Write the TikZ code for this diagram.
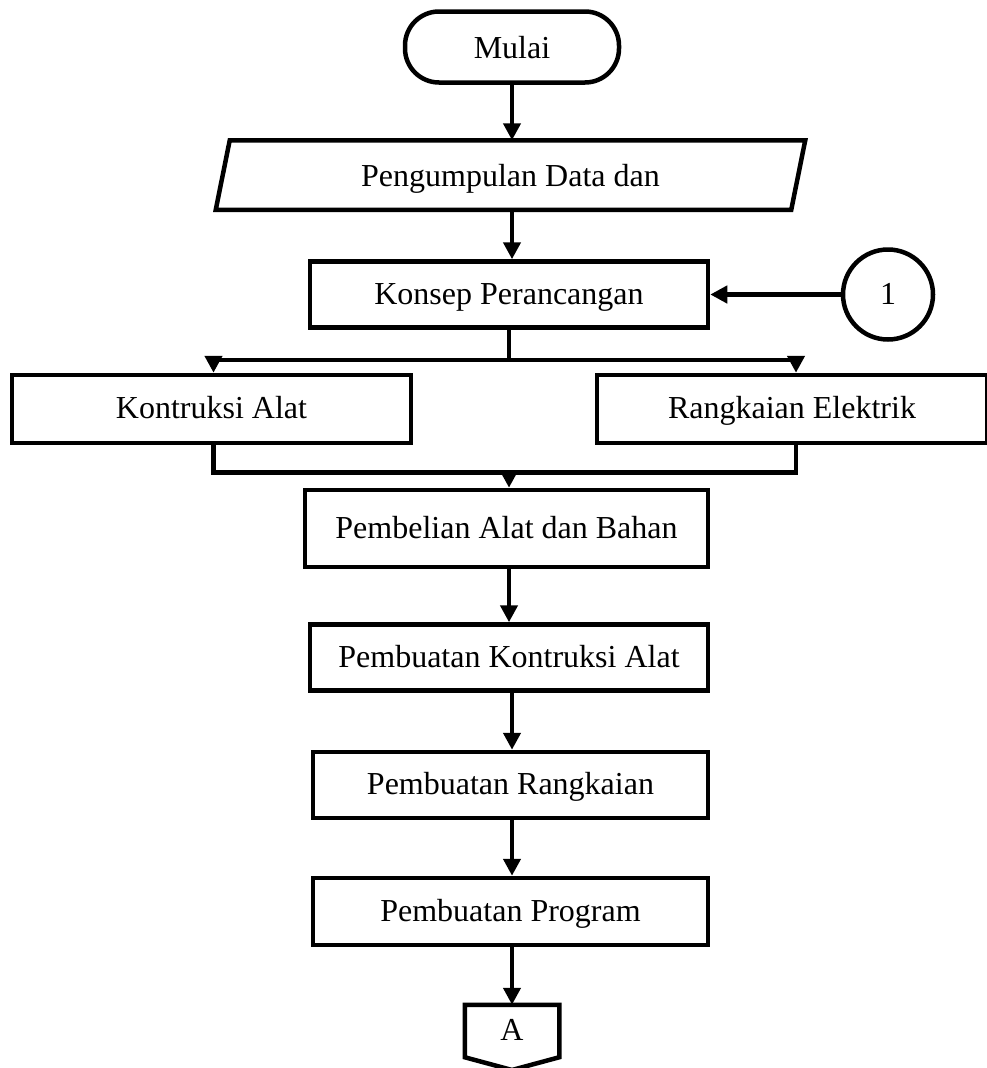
\documentclass[tikz,border=0pt]{standalone}
\usepackage{fontspec}
\setmainfont{Liberation Serif}
\usetikzlibrary{arrows.meta}

\begin{document}
\begin{tikzpicture}[x=1pt, y=-1pt, >={Triangle[length=17pt,width=17pt]},
    line width=4.5pt,
    every node/.style={font=\fontsize{32}{38}\selectfont, text height=23pt, text depth=4pt},
    proses/.style={draw, minimum width=398pt, minimum height=66pt, inner sep=0pt}]
    \useasboundingbox (0,0) rectangle (987,1068);
    \node[draw, rounded corners=34pt, minimum width=214pt, minimum height=71pt, text depth=-8pt] (mulai) at (512,47) {Mulai};
    \node[minimum width=571pt, minimum height=65pt, text depth=-5pt] (data) at (510.5,175) {Pengumpulan Data dan};
    \draw ([xshift=7pt]data.north west) -- ([xshift=7pt]data.north east)
      -- ([xshift=-7pt]data.south east) -- ([xshift=-7pt]data.south west) -- cycle;
    \node[proses] (konsep) at (509,294.5) {Konsep Perancangan};
    \node[draw, circle, minimum size=90pt, inner sep=0pt] (satu) at (888,294.5) {1};
    \node[proses, minimum width=399pt, minimum height=68pt] (kontruksi) at (211.5,409) {Kontruksi Alat};
    \node[proses, minimum width=390pt, minimum height=68pt] (elektrik) at (792,409) {Rangkaian Elektrik};
    \node[proses, minimum width=403pt, minimum height=77pt] (beli) at (506.5,528.5) {Pembelian Alat dan Bahan};
    \node[proses] (buatalat) at (509,657.5) {Pembuatan Kontruksi Alat};
    \node[proses, minimum width=395pt] (buatrangkaian) at (510.5,785) {Pembuatan Rangkaian};
    \node[proses, minimum width=395pt, minimum height=67pt] (program) at (510.5,911.5) {Pembuatan Program};
    \node[minimum width=90pt, minimum height=48pt] (konA) at (512,1031) {A};
    \draw (konA.north west) -- (konA.north east) -- (konA.south east)
      -- (512,1070) -- (konA.south west) -- cycle;

    \draw[->] (mulai.south) -- (mulai.south |- data.north);
    \draw[->] (data.south -| mulai) -- (mulai |- konsep.north);
    \draw[->] (satu) -- (konsep);
    \draw (konsep.south) -- ++(0,30) coordinate (cabang);
    \draw[->] (cabang) -| ([xshift=2pt]kontruksi.north);
    \draw[->] (cabang) -| ([xshift=4pt]elektrik.north);
    \draw ([xshift=2pt]kontruksi.south) -- ++(0,27) coordinate (gabung) -| ([xshift=4pt]elektrik.south);
    \draw[->] (gabung -| konsep.south) -- (konsep.south |- beli.north);
    \draw[->] (beli.south -| konsep) -- (konsep |- buatalat.north);
    \draw[->] (buatalat.south -| mulai) -- (mulai |- buatrangkaian.north);
    \draw[->] (buatrangkaian.south -| mulai) -- (mulai |- program.north);
    \draw[->] (program.south -| mulai) -- (mulai |- konA.north);
  \end{tikzpicture}
\end{document}
